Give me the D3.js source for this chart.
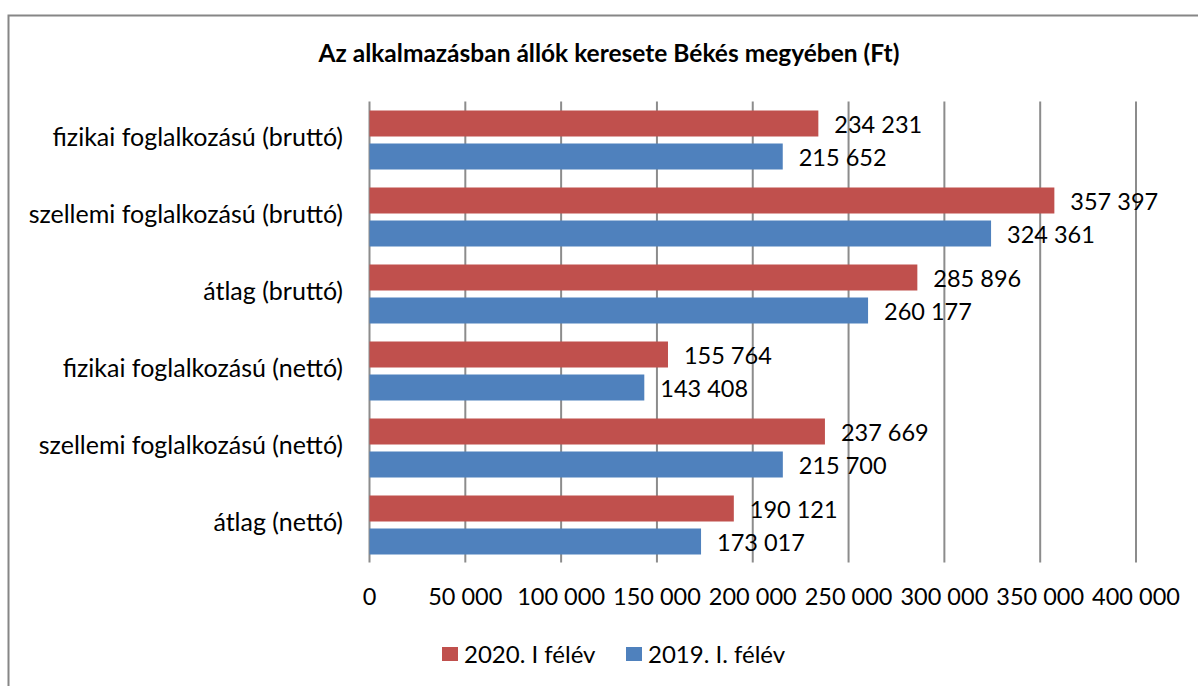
<!DOCTYPE html>
<html>
<head>
<meta charset="utf-8">
<script src="https://cdn.jsdelivr.net/npm/d3@7"></script>
<style>
  body { margin: 0; background: #fff; }
  svg { display: block; font-family: Lato, "Open Sans", sans-serif; }
</style>
</head>
<body>
<svg id="chart" width="1198" height="686"></svg>
<script>
// data
var categories = [
  "fizikai foglalkozású (bruttó)",
  "szellemi foglalkozású (bruttó)",
  "átlag (bruttó)",
  "fizikai foglalkozású (nettó)",
  "szellemi foglalkozású (nettó)",
  "átlag (nettó)"
];
var series2020 = [234231, 357397, 285896, 155764, 237669, 190121];
var series2019 = [215652, 324361, 260177, 143408, 215700, 173017];
var seriesNames = ["2020. I félév", "2019. I. félév"];
var seriesColors = ["#c0504d", "#4f81bd"];
var xTicks = [0, 50000, 100000, 150000, 200000, 250000, 300000, 350000, 400000];

var svg = d3.select("#chart");

// chart frame
svg.append("rect")
    .attr("x", 8.5).attr("y", 15.5)
    .attr("width", 1210).attr("height", 700)
    .attr("fill", "none")
    .attr("stroke", "#868686")
    .attr("stroke-width", 2);

var margin = {left: 369.5, right: 1136, top: 101.5, bottom: 563.5};

var x = d3.scaleLinear().domain([0, 400000]).range([margin.left, margin.right]);
var y = d3.scaleBand().domain(categories).range([margin.top, margin.bottom]);

// thousands with a space
var fmt = function (v) {
    return d3.format(",")(v).replace(/,/g, " ");
};

svg.append("text")
    .attr("x", 609).attr("y", 62)
    .attr("text-anchor", "middle")
    .attr("font-weight", "bold")
    .attr("font-size", 24.5)
    .text("Az alkalmazásban állók keresete Békés megyében (Ft)");

// vertical gridlines
svg.append("g")
    .selectAll("line")
    .data(xTicks)
    .enter().append("line")
    .attr("x1", function (d) { return x(d); })
    .attr("x2", function (d) { return x(d); })
    .attr("y1", margin.top)
    .attr("y2", margin.bottom - 1)
    .attr("stroke", "#8c8c8c")
    .attr("stroke-width", 2);

// tick labels
svg.append("g")
    .selectAll("text")
    .data(xTicks)
    .enter().append("text")
    .attr("x", function (d) { return x(d); })
    .attr("y", 605)
    .attr("text-anchor", "middle")
    .attr("font-size", 23.5)
    .text(fmt);

// category labels
svg.append("g")
    .selectAll("text")
    .data(categories)
    .enter().append("text")
    .attr("x", 343)
    .attr("y", function (d) { return y(d) + y.bandwidth() / 2 + 6; })
    .attr("text-anchor", "end")
    .attr("font-size", 25)
    .text(function (d) { return d; });

var barH = 26, barGap = 7;
var clusterTop = (y.bandwidth() - (barH * 2 + barGap)) / 2;

var allSeries = [series2020, series2019];
allSeries.forEach(function (vals, si) {
    var g = svg.append("g");
    var offs = clusterTop + si * (barH + barGap);
    g.selectAll("rect")
        .data(vals)
        .enter().append("rect")
        .attr("x", x(0))
        .attr("y", function (d, i) { return y(categories[i]) + offs; })
        .attr("width", function (d) { return x(d) - x(0); })
        .attr("height", barH)
        .attr("fill", seriesColors[si]);
    g.selectAll("text")
        .data(vals)
        .enter().append("text")
        .attr("x", function (d) { return x(d) + 16; })
        .attr("y", function (d, i) { return y(categories[i]) + offs + barH / 2 + 9.5; })
        .attr("font-size", 23.5)
        .text(fmt);
});

// legend
var legend = svg.append("g");
var legX = [442, 626];
seriesNames.forEach(function (name, i) {
    legend.append("rect")
        .attr("x", legX[i]).attr("y", 647)
        .attr("width", 16).attr("height", 14)
        .attr("fill", seriesColors[i]);
    legend.append("text")
        .attr("x", legX[i] + 22).attr("y", 663)
        .attr("font-size", 24)
        .text(name);
});
</script>
</body>
</html>
